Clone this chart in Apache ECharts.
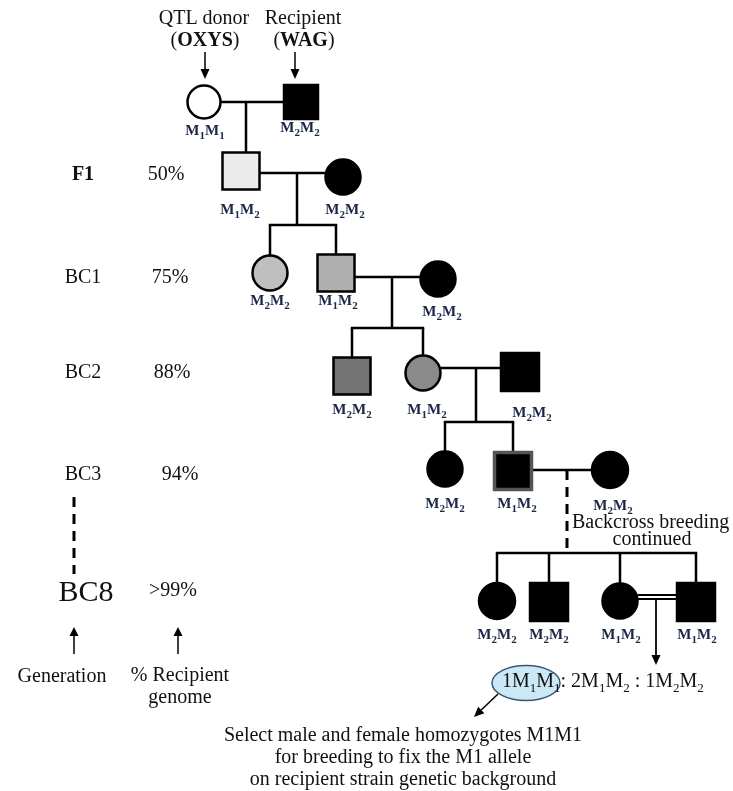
<!DOCTYPE html>
<html><head><meta charset="utf-8">
<script src="https://cdn.jsdelivr.net/npm/echarts/dist/echarts.min.js"></script>
<style>html,body{margin:0;padding:0;background:#fff}#main{width:733px;height:791px}</style>
</head><body><div id="main"></div>
<script>
// ---------------- data ----------------
const generations = ['F1', 'BC1', 'BC2', 'BC3', 'BC8'];
const recipientPct = ['50%', '75%', '88%', '94%', '>99%'];
const founders = [['QTL donor', 'OXYS'], ['Recipient', 'WAG']];
const nodeSex = ['F','M','M','F','F','M','F','M','F','M','F','M','F','F','M','F','M'];
const nodeGenotype = [[1,1],[2,2],[1,2],[2,2],[2,2],[1,2],[2,2],[2,2],[1,2],[2,2],[2,2],[1,2],[2,2],[2,2],[2,2],[1,2],[1,2]];
const nodeShade = ['#ffffff','#000000','#ebebeb','#000000','#bfbfbf','#b0b0b0','#000000','#737373','#8a8a8a','#000000','#000000','#000000','#000000','#000000','#000000','#000000','#000000'];
const matings = [[0,1],[2,3],[5,6],[8,9],[11,12],[15,16]];
const offspring = [[2],[4,5],[7,8],[10,11],[13,14,15,16],[]];
const segregation = [[1,[1,1]],[2,[1,2]],[1,[2,2]]];
const noteLines = ['Select male and female homozygotes M1M1', 'for breeding to fix the M1 allele', 'on recipient strain genetic background'];
const continuedText = ['Backcross breeding', 'continued'];
const columnTitles = ['Generation', ['% Recipient', 'genome']];

// ---------------- layout (diagram units) ----------------
const nodeXY = [[204,102],[301,102],[241,171],[343,177],[270,273],[336,273],[438,279],[352,376],[423,373],[520,372],[445,469],[513,471],[610,470],[497,601],[549,602],[620,601],[696,602]];
const nodeSize = [33,34,37,35,35,37,35,37,35,38,35,37,36,36,38,35,38];
const labelXY = [[205,131],[300,128],[240,210],[345,210],[270,301],[338,301],[442,312],[352,410],[427,410],[532,413],[445,504],[517,504],[613,506],[497,635],[549,635],[621,635],[697,635]];
const matingLayout = [
  {y:102, dropX:246},
  {y:173, dropX:297, barY:225},
  {y:277, dropX:392, barY:328},
  {y:368, dropX:476, barY:422},
  {y:470, dropX:567, barY:553, dashed:true},
  {y:597, dropX:656, arrowTo:665, double:true}
];
const genX = 83, pctX = [166,170,172,180,173], rowY = [175,278,373,475,591];
const FONT = 'Liberation Serif';
const LABEL_COLOR = '#1c2748';

function half(i){ return nodeSize[i]/2; }

function seg(api, p1, p2, extra){
  const a = api.coord(p1), b = api.coord(p2);
  return {type:'line', shape:{x1:a[0],y1:a[1],x2:b[0],y2:b[1]},
    style:Object.assign({stroke:'#000', lineWidth:2.5}, extra||{})};
}
function arrow(api, p1, p2, w, head){
  const a = api.coord(p1), b = api.coord(p2);
  const dx=b[0]-a[0], dy=b[1]-a[1], L=Math.hypot(dx,dy), ux=dx/L, uy=dy/L;
  const hl=head||9, hw=4.5;
  const bx=b[0]-ux*hl, by=b[1]-uy*hl;
  return [
    {type:'line', shape:{x1:a[0],y1:a[1],x2:bx,y2:by}, style:{stroke:'#000', lineWidth:w||1.5}},
    {type:'polygon', shape:{points:[[b[0],b[1]],[bx-uy*hw,by+ux*hw],[bx+uy*hw,by-ux*hw]]}, style:{fill:'#000'}}
  ];
}

function connectors(params, api){
  const m = params.dataIndex, [a,b] = matings[m], L = matingLayout[m];
  const ch = [];
  const xa = nodeXY[a][0]+half(a), xb = nodeXY[b][0]-half(b);
  if (L.double){
    ch.push(seg(api,[xa,L.y-2],[xb,L.y-2],{lineWidth:2}));
    ch.push(seg(api,[xa,L.y+2],[xb,L.y+2],{lineWidth:2}));
    ch.push(...arrow(api,[L.dropX,L.y+2],[L.dropX,L.arrowTo],1.8,10));
    return {type:'group', children:ch};
  }
  ch.push(seg(api,[xa,L.y],[xb,L.y]));
  const kids = offspring[m];
  if (L.barY === undefined){
    const k = kids[0];
    ch.push(seg(api,[L.dropX,L.y],[L.dropX,nodeXY[k][1]-half(k)]));
  } else {
    ch.push(seg(api,[L.dropX,L.y],[L.dropX,L.barY], L.dashed?{lineDash:[10,7],lineWidth:3}:{}));
    const xs = kids.map(k=>nodeXY[k][0]);
    ch.push(seg(api,[Math.min(...xs)-1.2,L.barY],[Math.max(...xs)+1.2,L.barY]));
    kids.forEach(k=>ch.push(seg(api,[nodeXY[k][0],L.barY],[nodeXY[k][0],nodeXY[k][1]-half(k)])));
  }
  return {type:'group', children:ch};
}

function genoText(g){ return 'M{s|'+g[0]+'}M{s|'+g[1]+'}'; }

// text items
const texts = [];
founders.forEach((f,i)=>{
  const cx = i===0?204:303;
  texts.push({x:cx, y:19, text:f[0], size:20});
  texts.push({x:cx+1, y:41, text:'({b|'+f[1]+'})', size:20, rich:{b:{fontWeight:'bold', fontSize:20, fontFamily:FONT, fill:'#111'}}});
});
generations.forEach((g,i)=>{
  texts.push({x:genX+(i===4?3:0), y:rowY[i]+(i===4?2:0), text:g, size:i===4?30:20, bold:i===0});
  texts.push({x:pctX[i], y:rowY[i], text:recipientPct[i], size:20});
});
texts.push({x:62, y:677, text:columnTitles[0], size:20});
texts.push({x:180, y:676, text:columnTitles[1][0], size:20});
texts.push({x:180, y:698, text:columnTitles[1][1], size:20});
texts.push({x:572, y:523, text:continuedText[0], size:20, align:'left'});
texts.push({x:652, y:540, text:continuedText[1], size:20});
noteLines.forEach((t,i)=>texts.push({x:403, y:736+i*22, text:t, size:20}));
const ratioStr = segregation.map(s=>s[0]+genoText(s[1])).join(' : ').replace(' : ', ': ');
texts.push({x:502, y:682, text:ratioStr, size:20, align:'left', lh:26, rich:{s:{fontSize:13, verticalAlign:'bottom', fontFamily:FONT, fill:'#111'}}});

function textItem(params, api){
  const t = texts[params.dataIndex];
  const p = api.coord([t.x, t.y]);
  const style = {text:t.text, x:0, y:0, fill:'#111', fontFamily:FONT, fontSize:t.size,
    fontWeight:t.bold?'bold':'normal', align:t.align||'center', verticalAlign:'middle',
    textAlign:t.align||'center', textVerticalAlign:'middle'};
  if (t.lh) style.lineHeight = t.lh;
  if (t.rich) style.rich = t.rich;
  return {type:'text', x:p[0], y:p[1], style:style};
}

function genoLabel(params, api){
  const i = params.dataIndex, p = api.coord(labelXY[i]);
  return {type:'text', x:p[0], y:p[1], style:{text:genoText(nodeGenotype[i]), x:0, y:0,
    fill:LABEL_COLOR, fontFamily:FONT, fontSize:15, fontWeight:'bold', lineHeight:22,
    align:'center', verticalAlign:'middle', textAlign:'center', textVerticalAlign:'middle',
    rich:{s:{fontSize:11, fontWeight:'bold', fontFamily:FONT, fill:LABEL_COLOR, verticalAlign:'bottom'}}}};
}

function extras(params, api){
  const ch = [];
  ch.push(...arrow(api,[205,52],[205,79],1.5,10));
  ch.push(...arrow(api,[295,52],[295,79],1.5,10));
  ch.push(...arrow(api,[74,654],[74,627],1.5,9));
  ch.push(...arrow(api,[178,654],[178,627],1.5,9));
  ch.push(seg(api,[74,497],[74,574],{lineWidth:3, lineDash:[10,7]}));
  const c = api.coord([526,683]);
  ch.push({type:'ellipse', shape:{cx:c[0], cy:c[1], rx:34, ry:17.5}, style:{fill:'#cbe8f7', stroke:'#3d5572', lineWidth:1.5}});
  ch.push(...arrow(api,[498,694],[474,717],1.5,10));
  return {type:'group', children:ch};
}

const chart = echarts.init(document.getElementById('main'), null, {renderer:'canvas'});
chart.setOption({
  animation:false,
  backgroundColor:'#ffffff',
  grid:{left:0, right:0, top:0, bottom:0},
  xAxis:{type:'value', min:0, max:733, show:false},
  yAxis:{type:'value', min:0, max:791, inverse:true, show:false},
  series:[
    {type:'custom', name:'extras', data:[[0,0]], renderItem:extras, z:1},
    {type:'custom', name:'connectors', data:matings.map((m,i)=>[i,0]), renderItem:connectors, z:2},
    {type:'scatter', name:'individuals', z:3,
      data: nodeXY.map((p,i)=>({value:p, symbol:nodeSex[i]==='M'?'rect':'circle',
        symbolSize:nodeSize[i],
        itemStyle:{color:nodeShade[i], borderColor:i===11?'#555555':'#000000', borderWidth:i===11?3.5:2.5, opacity:1}})),
      emphasis:{disabled:true}, silent:true},
    {type:'custom', name:'genotypes', data:nodeXY.map((p,i)=>[i,0]), renderItem:genoLabel, z:4},
    {type:'custom', name:'texts', data:texts.map((t,i)=>[i,0]), renderItem:textItem, z:5}
  ]
});
</script></body></html>
